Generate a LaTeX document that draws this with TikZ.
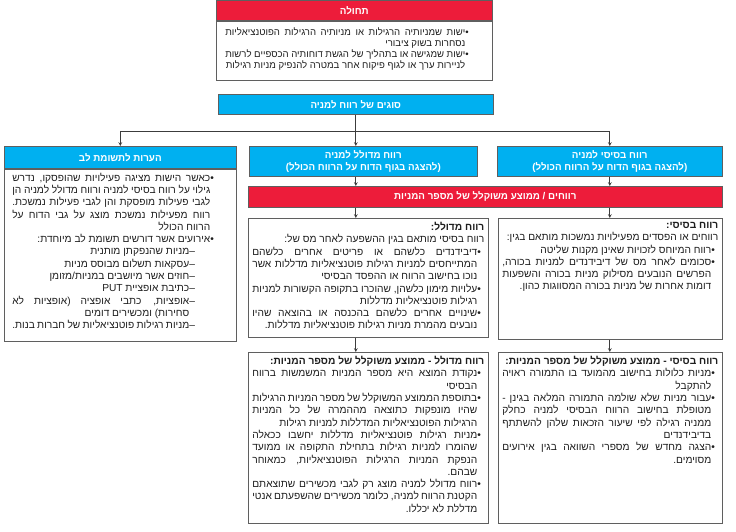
\documentclass[tikz,border=0pt]{standalone}
\usepackage{fontspec}
\setmainfont{Liberation Sans}[Script=Hebrew]
\usetikzlibrary{positioning}
\TeXXeTstate=1
\definecolor{HdrBlue}{RGB}{0,176,240}
\definecolor{HdrRed}{RGB}{237,28,58}
\definecolor{FrameGray}{RGB}{95,95,95}
\definecolor{WireGray}{RGB}{60,60,60}
\definecolor{BodyInk}{RGB}{30,30,30}

\newlength\bulw
\newlength\dashgap
\newlength\dashw
\newcommand{\rtl}[1]{\beginR #1\endR}
\newcommand{\hpar}[1]{\noindent\beginR #1\hfill\endR\par}
\newcommand{\bul}[1]{\hangindent=-\bulw\hangafter=1\noindent\beginR\hbox to\bulw{\hss\textbullet}#1\hfill\endR\par}
\newcommand{\dashitem}[1]{{\advance\rightskip by\dashgap\hangindent=-\dashw\hangafter=1\noindent\beginR\hbox to\dashw{\hss–}#1\hfill\endR\par}}
% width, height, left margin, right margin, body
\newcommand{\boxtext}[5]{\begin{minipage}[t][#2][t]{#1}\fontsize{10.2}{12.3}\selectfont\color{BodyInk}%
  \parfillskip=0pt \leftskip=#3 \rightskip=#4 \hyphenpenalty=10000 \exhyphenpenalty=10000 \emergencystretch=1em
  #5\end{minipage}}

\begin{document}
\begin{tikzpicture}[x=1pt, y=-1pt, >=stealth, font=\fontsize{10.2}{12.3}\selectfont]
    \tikzstyle{redhead} = [rectangle, draw=FrameGray, fill=HdrRed, text=white, font=\fontsize{9.8}{12.5}\selectfont\bfseries, anchor=north west, inner sep=0pt, line width=0.6pt]
    \tikzstyle{bluehead} = [rectangle, draw=FrameGray, fill=HdrBlue, text=white, font=\fontsize{9.8}{12.5}\selectfont\bfseries, anchor=north west, inner sep=0pt, line width=0.6pt]
    \tikzstyle{panel} = [rectangle, draw=FrameGray, fill=white, anchor=north west, inner xsep=0pt, inner ysep=4pt, line width=0.6pt]
    \tikzstyle{wire} = [line width=0.7pt, color=WireGray]
    \tikzstyle{arrow} = [line width=0.7pt, ->, >=stealth, color=WireGray]

    \useasboundingbox (0,0) rectangle (736,531);

    \node [redhead, minimum width=276pt, minimum height=20pt] (scopehd) at (216,0) {\rtl{תחולה}};
    \node [panel, inner ysep=7pt, below=0pt of scopehd] (scopebd) {\boxtext{276pt}{45pt}{9pt}{17pt}{\fontsize{9.6}{11}\selectfont \bulw=10pt
      \bul{ישות שמניותיה הרגילות או מניותיה הרגילות הפוטנציאליות נסחרות בשוק ציבורי}
      \bul{ישות שמגישה או בתהליך של הגשת דוחותיה הכספיים לרשות לניירות ערך או לגוף פיקוח אחר במטרה להנפיק מניות רגילות}}};

    \node [bluehead, minimum width=275pt, minimum height=20pt] (kinds) at (218,94) {\rtl{סוגים של רווח למניה}};

    \node [bluehead, minimum width=232pt, minimum height=22pt] (notehd) at (4,146) {\rtl{הערות לתשומת לב}};
    \node [panel, below=0pt of notehd] (notebd) {\boxtext{232pt}{164pt}{8pt}{19pt}{\bulw=7pt \dashgap=17pt \dashw=11pt
      \bul{כאשר הישות מציגה פעילויות שהופסקו, נדרש גילוי על רווח בסיסי למניה ורווח מדולל למניה הן לגבי פעילות מופסקת והן לגבי פעילות נמשכת. רווח מפעילות נמשכת מוצג על גבי הדוח על הרווח הכולל}
      \bul{אירועים אשר דורשים תשומת לב מיוחדת:}
      \dashitem{מניות שהנפקתן מותנית}
      \dashitem{עסקאות תשלום מבוסס מניות}
      \dashitem{חוזים אשר מיושבים במניות/מזומן}
      \dashitem{כתיבת אופציית \beginL PUT\endL}
      \dashitem{אופציות, כתבי אופציה (אופציות לא סחירות) ומכשירים דומים}
      \dashitem{מניות רגילות פוטנציאליות של חברות בנות.}}};

    \node [bluehead, minimum width=228pt, minimum height=30pt, align=center] (dilhd) at (249,146) {\rtl{רווח מדולל למניה}\\\rtl{(להצגה בגוף הדוח על הרווח הכולל)}};
    \node [bluehead, minimum width=225pt, minimum height=30pt, align=center] (bashd) at (497,146) {\rtl{רווח בסיסי למניה}\\\rtl{(להצגה בגוף הדוח על הרווח הכולל)}};
    \node [redhead, minimum width=474pt, minimum height=21pt] (ratio) at (248,186) {\rtl{רווחים / ממוצע משוקלל של מספר המניות}};

    \node [panel] (dilnum) at (248,218) {\boxtext{240pt}{111pt}{4pt}{4pt}{\bulw=7pt
      \hpar{\textbf{רווח מדולל:}}
      \hpar{רווח בסיסי מותאם בגין ההשפעה לאחר מס של:}
      \bul{דיבידנדים כלשהם או פריטים אחרים כלשהם המתייחסים למניות רגילות פוטנציאליות מדללות אשר נוכו בחישוב הרווח או ההפסד הבסיסי}
      \bul{עלויות מימון כלשהן, שהוכרו בתקופה הקשורות למניות רגילות פוטנציאליות מדללות}
      \bul{שינויים אחרים כלשהם בהכנסה או בהוצאה שהיו נובעים מהמרת מניות רגילות פוטנציאליות מדללות.}}};
    \node [panel] (basnum) at (498,218) {\boxtext{224pt}{113pt}{4pt}{4pt}{\bulw=7pt
      \hpar{\textbf{רווח בסיסי:}}
      \hpar{רווחים או הפסדים מפעילויות נמשכות מותאם בגין:}
      \bul{רווח המיוחס לזכויות שאינן מקנות שליטה}
      \bul{סכומים לאחר מס של דיבידנדים למניות בכורה, הפרשים הנובעים מסילוק מניות בכורה והשפעות דומות אחרות של מניות בכורה המסווגות כהון.}}};

    \node [panel] (dilden) at (248,352) {\boxtext{240pt}{163pt}{4pt}{4pt}{\bulw=7pt
      \hpar{\textbf{רווח מדולל - ממוצע משוקלל של מספר המניות:}}
      \bul{נקודת המוצא היא מספר המניות המשמשות ברווח הבסיסי}
      \bul{בתוספת הממוצע המשוקלל של מספר המניות הרגילות שהיו מונפקות כתוצאה מההמרה של כל המניות הרגילות הפוטנציאליות המדללות למניות רגילות}
      \bul{מניות רגילות פוטנציאליות מדללות יחשבו ככאלה שהומרו למניות רגילות בתחילת התקופה או ממועד הנפקת המניות הרגילות הפוטנציאליות, כמאוחר שבהם.}
      \bul{רווח מדולל למניה מוצג רק לגבי מכשירים שתוצאתם הקטנת הרווח למניה, כלומר מכשירים שהשפעתם אנטי מדללת לא יכללו.}}};
    \node [panel] (basden) at (498,352) {\boxtext{224pt}{163pt}{4pt}{4pt}{\bulw=7pt
      \hpar{\textbf{רווח בסיסי - ממוצע משוקלל של מספר המניות:}}
      \bul{מניות כלולות בחישוב מהמועד בו התמורה ראויה להתקבל}
      \bul{עבור מניות שלא שולמה התמורה המלאה בגינן~- מטופלת בחישוב הרווח הבסיסי למניה כחלק ממניה רגילה לפי שיעור הזכאות שלהן להשתתף בדיבידנדים}
      \bul{הצגה מחדש של מספרי השוואה בגין אירועים מסוימים.}}};

    \draw [wire] (kinds.south) -- ++(0,17) coordinate (fork);
    \draw [arrow] (fork) -| (notehd.north);
    \draw [arrow] (fork) -| (bashd.north);
    \draw [arrow] (fork) -- (fork |- dilhd.north);
    \draw [arrow] (dilhd.south -| fork) -- (ratio.north -| fork);
    \draw [arrow] (bashd.south) -- (ratio.north -| bashd.south);
    \draw [arrow] (ratio.south -| fork) -- (dilnum.north -| fork);
    \draw [arrow] (ratio.south -| bashd.south) -- (basnum.north -| bashd.south);
    \draw [arrow] (dilnum.south -| fork) -- (dilden.north -| fork);
    \draw [arrow] (basnum.south -| bashd.south) -- (basden.north -| bashd.south);
  \end{tikzpicture}
\end{document}
